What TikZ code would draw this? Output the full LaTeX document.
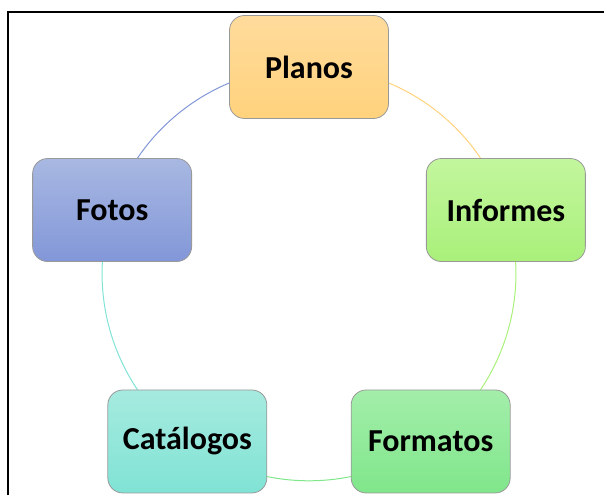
\documentclass[tikz,border=0pt]{standalone}
\usepackage{fontspec}
\setmainfont{Carlito}
\usetikzlibrary{backgrounds}
\definecolor{planos1}{HTML}{FFDB9C}
\definecolor{planos2}{HTML}{FFD27C}
\definecolor{informes1}{HTML}{C3F69E}
\definecolor{informes2}{HTML}{A9F07A}
\definecolor{formatos1}{HTML}{A3EEAA}
\definecolor{formatos2}{HTML}{80E68B}
\definecolor{catalogos1}{HTML}{A6EADF}
\definecolor{catalogos2}{HTML}{80E3D5}
\definecolor{fotos1}{HTML}{A8B8E2}
\definecolor{fotos2}{HTML}{8297D8}
\begin{document}
\begin{tikzpicture}[x=1pt, y=1pt, font=\bfseries\fontsize{32}{38}\selectfont, declare function={r=207;},
	box/.style={draw=black!40, line width=0.8pt, rounded corners=15pt, minimum width=159pt, minimum height=103pt},
	ring/.style={line width=1pt, bend left=36, looseness=0.94}]
	\useasboundingbox (0,0) rectangle (604,495);
	\draw[line width=1.2pt] (8,0)--(8,483)--(604,483);
	\path (309,221) coordinate (O);
	\foreach \n/\a/\t in {planos/90/Planos, informes/18/Informes, formatos/-54/Formatos, catalogos/-126/Catálogos, fotos/162/Fotos}{
	\path (O)++(\a:r) node[box, top color=\n1, bottom color=\n2] (\n) {\t};
	}
	\begin{scope}[on background layer]
	\foreach \n/\m in {planos/informes, informes/formatos, formatos/catalogos, catalogos/fotos, fotos/planos}{
	\draw[ring, \n2] (\n.center) to (\m.center);
	}
	\end{scope}
\end{tikzpicture}
\end{document}
